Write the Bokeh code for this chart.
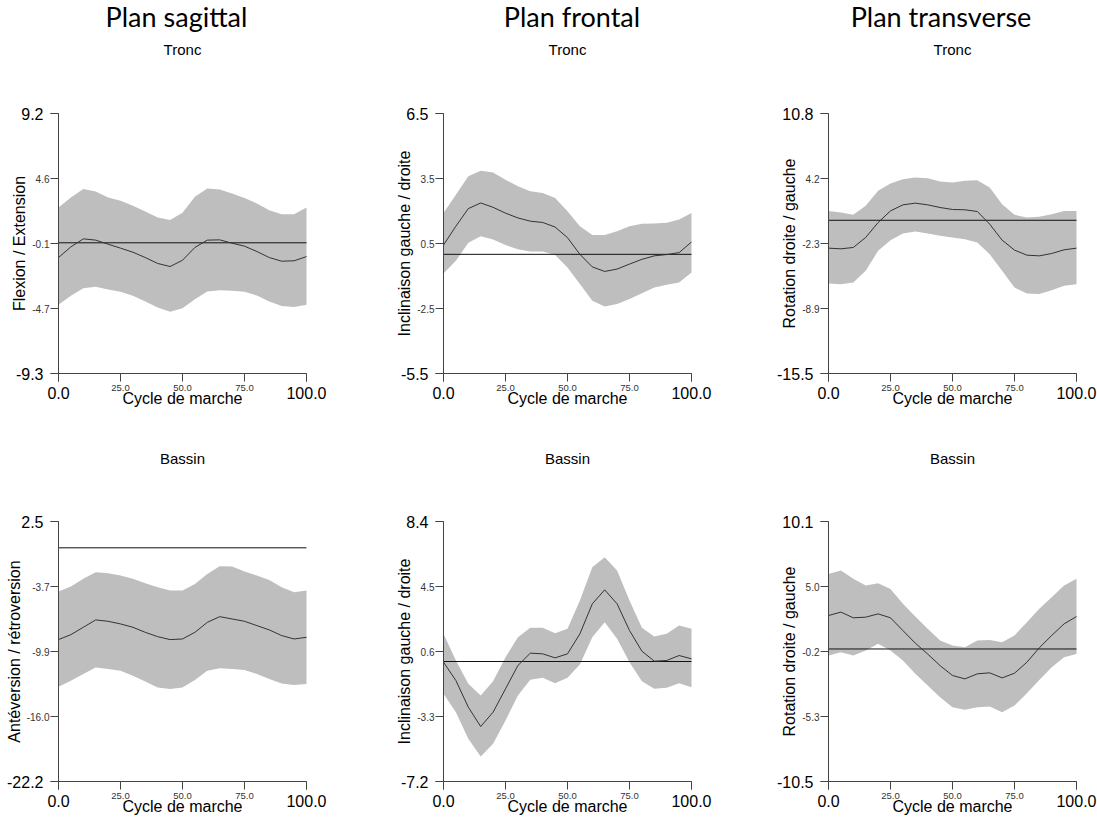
import numpy as np
from bokeh.plotting import figure
from bokeh.models import Range1d, Label, LinearAxis, FixedTicker, CustomJSTickFormatter
from bokeh.layouts import row, column
from bokeh.embed import file_html
from bokeh.resources import INLINE

# ---------------- data ----------------
cycle = [0, 5, 10, 15, 20, 25, 30, 35, 40, 45, 50, 55, 60, 65, 70, 75, 80, 85, 90, 95, 100]
x_tick_values = [0, 25, 50, 75, 100]
x_tick_labels = ["0.0", "25.0", "50.0", "75.0", "100.0"]

plan_titles = ["Plan sagittal", "Plan frontal", "Plan transverse"]
segment_titles = ["Tronc", "Bassin"]
x_title = "Cycle de marche"

# Tronc - plan sagittal
tronc_sag_mean = [-1.05, -0.29, 0.28, 0.19, -0.10, -0.38, -0.67, -1.05, -1.47, -1.69, -1.24,
                  -0.33, 0.19, 0.21, -0.03, -0.24, -0.62, -1.05, -1.31, -1.28, -0.98]
tronc_sag_upper = [2.51, 3.22, 3.82, 3.65, 3.22, 2.99, 2.63, 2.23, 1.80, 1.63, 2.13,
                   3.27, 3.86, 3.79, 3.51, 3.18, 2.80, 2.32, 2.04, 2.04, 2.51]
tronc_sag_lower = [-4.41, -3.77, -3.23, -3.13, -3.32, -3.49, -3.77, -4.18, -4.60, -4.91, -4.65,
                   -4.01, -3.47, -3.37, -3.42, -3.49, -3.75, -4.18, -4.49, -4.56, -4.41]
tronc_sag_yticks = ["9.2", "4.6", "-0.1", "-4.7", "-9.3"]
tronc_sag_ylabel = "Flexion / Extension"

# Tronc - plan frontal
tronc_fro_mean = [0.43, 1.30, 2.11, 2.37, 2.17, 1.90, 1.68, 1.53, 1.47, 1.26, 0.77,
                  0.00, -0.58, -0.79, -0.68, -0.45, -0.23, -0.07, -0.01, 0.08, 0.57]
tronc_fro_upper = [1.91, 2.75, 3.60, 3.86, 3.78, 3.44, 3.14, 2.91, 2.83, 2.60, 1.99,
                   1.30, 0.89, 0.89, 1.07, 1.30, 1.41, 1.42, 1.46, 1.61, 1.91]
tronc_fro_lower = [-0.88, -0.30, 0.54, 0.84, 0.69, 0.43, 0.23, 0.13, 0.13, -0.03, -0.61,
                   -1.37, -2.14, -2.41, -2.29, -2.06, -1.80, -1.53, -1.40, -1.30, -0.84]
tronc_fro_yticks = ["6.5", "3.5", "0.5", "-2.5", "-5.5"]
tronc_fro_ylabel = "Inclinaison gauche / droite"

# Tronc - plan transverse
tronc_tra_mean = [-2.82, -2.89, -2.75, -1.74, -0.23, 0.95, 1.56, 1.73, 1.56, 1.29, 1.09,
                  1.06, 0.89, -0.39, -2.01, -3.02, -3.53, -3.60, -3.36, -2.99, -2.82]
tronc_tra_upper = [0.95, 0.79, 0.55, 1.46, 2.98, 3.72, 4.16, 4.33, 4.26, 3.92, 3.82,
                   3.99, 4.06, 3.32, 1.63, 0.55, 0.28, 0.35, 0.62, 0.95, 0.95]
tronc_tra_lower = [-6.40, -6.46, -6.29, -5.11, -3.09, -2.01, -1.34, -1.14, -1.34, -1.57, -1.74,
                   -1.91, -2.25, -3.43, -5.11, -6.80, -7.41, -7.47, -7.07, -6.63, -6.46]
tronc_tra_yticks = ["10.8", "4.2", "-2.3", "-8.9", "-15.5"]
tronc_tra_ylabel = "Rotation droite / gauche"

# Bassin - plan sagittal
bassin_sag_mean = [-8.72, -8.25, -7.55, -6.85, -6.98, -7.23, -7.55, -8.03, -8.44, -8.72, -8.66,
                   -8.03, -7.08, -6.54, -6.76, -6.98, -7.39, -7.80, -8.34, -8.66, -8.50]
bassin_sag_upper = [-4.16, -3.68, -2.95, -2.32, -2.41, -2.64, -2.95, -3.37, -3.75, -4.06, -4.06,
                    -3.43, -2.48, -1.75, -1.78, -2.26, -2.64, -3.05, -3.75, -4.22, -4.06]
bassin_sag_lower = [-13.19, -12.62, -11.99, -11.36, -11.51, -11.67, -12.15, -12.69, -13.26, -13.42, -13.26,
                    -12.56, -11.67, -11.45, -11.51, -11.61, -11.99, -12.47, -12.88, -13.04, -12.94]
bassin_sag_yticks = ["2.5", "-3.7", "-9.9", "-16.0", "-22.2"]
bassin_sag_ylabel = "Antéversion / rétroversion"

# Bassin - plan frontal
bassin_fro_mean = [-0.04, -1.14, -2.74, -3.90, -3.04, -1.64, -0.24, 0.50, 0.46, 0.22, 0.46,
                   1.66, 3.46, 4.30, 3.46, 1.86, 0.62, 0.02, 0.06, 0.36, 0.16]
bassin_fro_upper = [1.66, 0.06, -1.34, -2.04, -1.18, 0.26, 1.46, 2.02, 2.02, 1.70, 1.96,
                    3.66, 5.66, 6.26, 5.46, 3.66, 2.02, 1.50, 1.66, 2.16, 1.96]
bassin_fro_lower = [-1.94, -3.04, -4.64, -5.70, -4.94, -3.54, -2.04, -1.10, -0.98, -1.30, -0.98,
                    -0.18, 1.46, 2.36, 1.36, -0.04, -1.18, -1.64, -1.58, -1.30, -1.54]
bassin_fro_yticks = ["8.4", "4.5", "0.6", "-3.3", "-7.2"]
bassin_fro_ylabel = "Inclinaison gauche / droite"

# Bassin - plan transverse
bassin_tra_mean = [2.65, 2.92, 2.47, 2.52, 2.78, 2.47, 1.46, 0.46, -0.40, -1.32, -2.10,
                   -2.37, -1.97, -1.89, -2.29, -1.92, -1.05, 0.09, 1.07, 1.99, 2.57]
bassin_tra_upper = [5.95, 6.22, 5.56, 5.03, 5.21, 4.76, 3.58, 2.57, 1.60, 0.67, 0.27,
                    0.14, 0.67, 0.72, 0.54, 1.07, 2.12, 3.18, 4.10, 5.03, 5.56]
bassin_tra_lower = [-0.52, -0.26, -0.52, -0.13, 0.41, -0.13, -0.92, -1.97, -2.90, -3.82, -4.61,
                    -4.82, -4.61, -4.56, -5.01, -4.48, -3.50, -2.45, -1.44, -0.65, -0.39]
bassin_tra_yticks = ["10.1", "5.0", "-0.2", "-5.3", "-10.5"]
bassin_tra_ylabel = "Rotation droite / gauche"

reference_level = [0.0, 0.0, 0.0, 0.0, 0.0, 0.0]

# ---------------- styling / layout constants ----------------
BAND = "#BEBEBE"
AXIS = "#444444"
FONT = "Liberation Sans"
FRAME_W, FRAME_H = 248, 260
LEFT = 58
FIG_W = [385, 385, 327]
header_shift = [-6, 4.5, -11.5]

LABEL_JS = """
let best = 0; let dmin = 1e99;
for (let k = 0; k < pos.length; k++) {
  const d = Math.abs(pos[k] - tick);
  if (d < dmin) { dmin = d; best = k; }
}
return labs[best];
"""


def make_axis(loc, bounds, ticks, labels, size, standoff, color):
    ax = LinearAxis(fixed_location=loc, bounds=bounds,
                    ticker=FixedTicker(ticks=ticks, minor_ticks=[]),
                    formatter=CustomJSTickFormatter(args=dict(pos=ticks, labs=labels), code=LABEL_JS))
    ax.axis_line_color = AXIS
    ax.major_tick_line_color = AXIS
    ax.major_tick_out = 8
    ax.major_tick_in = 0
    ax.minor_tick_out = 0
    ax.minor_tick_in = 0
    ax.major_label_text_font = FONT
    ax.major_label_text_font_size = size
    ax.major_label_text_color = color
    ax.major_label_standoff = standoff
    ax.axis_label_text_font = FONT
    ax.axis_label_text_font_style = "normal"
    ax.axis_label_text_font_size = "16px"
    ax.axis_label_text_color = "black"
    return ax


def make_panel(ci, ri, mean, upper, lower, yticks, ylabel, ref):
    top = ri == 0
    W = FIG_W[ci]
    H = 448 if top else 370
    ftop = 113 if top else 73
    ymax = float(yticks[0])
    ymin = float(yticks[-1])
    kx = 100.0 / FRAME_W
    ky = (ymax - ymin) / FRAME_H
    p = figure(width=W, height=H, output_backend="svg", toolbar_location=None,
               x_range=Range1d(-LEFT * kx, (W - LEFT) * kx),
               y_range=Range1d(ymin - (H - ftop - FRAME_H) * ky, ymax + ftop * ky),
               x_axis_type=None, y_axis_type=None, min_border=0)
    p.outline_line_color = None
    p.grid.visible = False
    p.background_fill_color = "white"
    p.border_fill_color = "white"

    # data marks
    p.varea(x=cycle, y1=lower, y2=upper, fill_color=BAND, fill_alpha=1.0)
    p.segment(x0=cycle[0], x1=cycle[-1], y0=ref, y1=ref, line_color="#111111", line_width=1)
    p.line(cycle, mean, line_color="#333333", line_width=1)

    # y axes: inner ticks with small labels + end ticks with large labels
    ypos = [float(v) for v in np.linspace(ymin, ymax, 5)]
    ylabs_small = [""] + list(reversed(yticks))[1:4] + [""]
    yax = make_axis(0, (ymin, ymax), ypos, ylabs_small, "10px", 1, "#333333")
    yax.axis_label = ylabel
    yax.axis_label_standoff = 1
    p.add_layout(yax, "left")
    yend = [ymin, ymax]
    yax2 = make_axis(0, (ymin, ymax), yend, [yticks[-1], yticks[0]], "16px", 7, "black")
    yax2.axis_line_color = None
    p.add_layout(yax2, "left")

    # x axes
    xlabs_small = [""] + x_tick_labels[1:4] + [""]
    xax = make_axis(ymin, (0, 100), x_tick_values, xlabs_small, "9.5px", 3, "#333333")
    xax.axis_label = x_title
    xax.axis_label_standoff = -4
    p.add_layout(xax, "below")
    xend = [x_tick_values[0], x_tick_values[-1]]
    xax2 = make_axis(ymin, (0, 100), xend, [x_tick_labels[0], x_tick_labels[-1]], "16px", 5, "black")
    xax2.axis_line_color = None
    p.add_layout(xax2, "below")

    # titles
    p.add_layout(Label(x=50, y=ymax + (64 if top else 63) * ky, text=segment_titles[ri], text_align="center",
                       text_baseline="alphabetic", text_font=FONT, text_font_size="15px",
                       text_color="black"))
    if top:
        p.add_layout(Label(x=50 + header_shift[ci] * kx, y=ymax + 97 * ky, text=plan_titles[ci],
                           text_align="center", text_baseline="alphabetic", text_font="Lato",
                           text_font_size="27px", text_color="black"))
    return p


panels_top = [
    make_panel(0, 0, tronc_sag_mean, tronc_sag_upper, tronc_sag_lower, tronc_sag_yticks, tronc_sag_ylabel, reference_level[0]),
    make_panel(1, 0, tronc_fro_mean, tronc_fro_upper, tronc_fro_lower, tronc_fro_yticks, tronc_fro_ylabel, reference_level[1]),
    make_panel(2, 0, tronc_tra_mean, tronc_tra_upper, tronc_tra_lower, tronc_tra_yticks, tronc_tra_ylabel, reference_level[2]),
]
panels_bottom = [
    make_panel(0, 1, bassin_sag_mean, bassin_sag_upper, bassin_sag_lower, bassin_sag_yticks, bassin_sag_ylabel, reference_level[3]),
    make_panel(1, 1, bassin_fro_mean, bassin_fro_upper, bassin_fro_lower, bassin_fro_yticks, bassin_fro_ylabel, reference_level[4]),
    make_panel(2, 1, bassin_tra_mean, bassin_tra_upper, bassin_tra_lower, bassin_tra_yticks, bassin_tra_ylabel, reference_level[5]),
]

layout = column(row(*panels_top, spacing=0), row(*panels_bottom, spacing=0), spacing=0)

with open("out.html", "w") as f:
    f.write(file_html(layout, INLINE))
